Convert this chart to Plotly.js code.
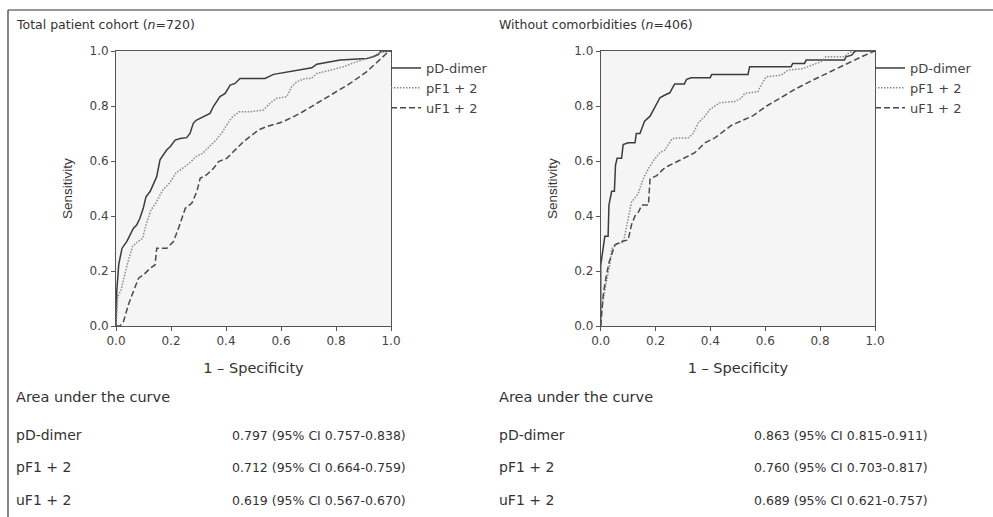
<!DOCTYPE html>
<html>
<head>
<meta charset="utf-8">
<script src="https://cdn.plot.ly/plotly-3.0.1.min.js"></script>
<style>html,body{margin:0;padding:0;background:#fff;}#chart{width:993px;height:517px;}</style>
</head>
<body>
<div id="chart"></div>
<script>
// ---------- DATA ----------
const seriesNames = ['pD-dimer', 'pF1 + 2', 'uF1 + 2'];

// Total patient cohort (n=720)
const totalPD_x = [0, 0.003, 0.01, 0.022, 0.039, 0.051, 0.063, 0.075, 0.087, 0.099, 0.109, 0.124, 0.136, 0.148, 0.16, 0.172, 0.184, 0.197, 0.215, 0.233, 0.257, 0.269, 0.281, 0.293, 0.318, 0.342, 0.354, 0.378, 0.397, 0.415, 0.433, 0.451, 0.487, 0.542, 0.573, 0.657, 0.712, 0.73, 0.815, 0.912, 0.936, 0.955, 0.961, 1];
const totalPD_y = [0, 0.13, 0.224, 0.283, 0.307, 0.331, 0.355, 0.367, 0.392, 0.428, 0.47, 0.489, 0.513, 0.543, 0.604, 0.622, 0.64, 0.652, 0.676, 0.682, 0.685, 0.70, 0.737, 0.749, 0.761, 0.773, 0.798, 0.834, 0.846, 0.876, 0.882, 0.9, 0.9, 0.9, 0.915, 0.93, 0.939, 0.952, 0.967, 0.973, 0.979, 0.988, 0.997, 1];
const totalPF_x = [0, 0.003, 0.006, 0.018, 0.03, 0.042, 0.06, 0.079, 0.097, 0.109, 0.127, 0.145, 0.17, 0.194, 0.218, 0.242, 0.267, 0.291, 0.315, 0.339, 0.364, 0.388, 0.406, 0.424, 0.448, 0.487, 0.536, 0.56, 0.584, 0.621, 0.639, 0.657, 0.687, 0.71, 0.73, 0.778, 0.827, 0.875, 0.924, 0.955, 0.97, 1];
const totalPF_y = [0, 0.05, 0.106, 0.13, 0.179, 0.228, 0.289, 0.307, 0.319, 0.368, 0.422, 0.447, 0.495, 0.519, 0.556, 0.574, 0.592, 0.616, 0.628, 0.652, 0.676, 0.707, 0.737, 0.761, 0.779, 0.779, 0.785, 0.81, 0.828, 0.834, 0.87, 0.888, 0.9, 0.9, 0.918, 0.93, 0.943, 0.961, 0.976, 0.991, 1.0, 1];
const totalUF_x = [0, 0.015, 0.027, 0.045, 0.063, 0.082, 0.1, 0.124, 0.142, 0.148, 0.185, 0.209, 0.227, 0.252, 0.276, 0.294, 0.306, 0.33, 0.355, 0.373, 0.403, 0.427, 0.464, 0.488, 0.518, 0.548, 0.608, 0.669, 0.73, 0.79, 0.851, 0.912, 0.972, 0.99, 1];
const totalUF_y = [0, 0.0, 0.016, 0.077, 0.125, 0.174, 0.186, 0.21, 0.222, 0.283, 0.283, 0.307, 0.355, 0.428, 0.447, 0.489, 0.537, 0.55, 0.574, 0.598, 0.61, 0.634, 0.671, 0.689, 0.713, 0.725, 0.743, 0.773, 0.81, 0.846, 0.882, 0.925, 0.979, 0.997, 1];

// Without comorbidities (n=406)
const noComPD_x = [0, 0, 0.015, 0.027, 0.03, 0.04, 0.05, 0.054, 0.06, 0.076, 0.082, 0.1, 0.125, 0.13, 0.143, 0.16, 0.18, 0.2, 0.216, 0.234, 0.252, 0.265, 0.27, 0.305, 0.313, 0.33, 0.399, 0.405, 0.537, 0.543, 0.694, 0.70, 0.743, 0.749, 0.889, 0.894, 0.915, 0.925, 0.93, 1];
const noComPD_y = [0, 0.22, 0.326, 0.326, 0.44, 0.49, 0.49, 0.585, 0.61, 0.61, 0.66, 0.666, 0.666, 0.70, 0.70, 0.745, 0.763, 0.80, 0.83, 0.84, 0.848, 0.872, 0.88, 0.88, 0.897, 0.903, 0.903, 0.915, 0.915, 0.943, 0.943, 0.955, 0.955, 0.967, 0.967, 0.979, 0.985, 0.997, 1.0, 1];
const noComPF_x = [0, 0.004, 0.01, 0.016, 0.022, 0.034, 0.04, 0.058, 0.083, 0.1, 0.112, 0.136, 0.155, 0.167, 0.191, 0.216, 0.234, 0.258, 0.27, 0.319, 0.337, 0.355, 0.38, 0.398, 0.434, 0.488, 0.512, 0.525, 0.573, 0.585, 0.603, 0.658, 0.682, 0.737, 0.803, 0.821, 0.888, 0.906, 0.918, 1];
const noComPF_y = [0, 0.07, 0.1, 0.137, 0.167, 0.228, 0.28, 0.298, 0.305, 0.39, 0.45, 0.48, 0.535, 0.56, 0.60, 0.63, 0.64, 0.678, 0.684, 0.684, 0.70, 0.738, 0.763, 0.787, 0.812, 0.816, 0.828, 0.846, 0.852, 0.876, 0.906, 0.912, 0.93, 0.936, 0.961, 0.979, 0.979, 0.994, 1.0, 1];
const noComUF_x = [0, 0.004, 0.01, 0.02, 0.03, 0.04, 0.052, 0.076, 0.1, 0.112, 0.125, 0.138, 0.15, 0.174, 0.18, 0.204, 0.234, 0.283, 0.343, 0.38, 0.416, 0.477, 0.513, 0.556, 0.605, 0.654, 0.714, 0.775, 0.836, 0.897, 0.957, 1];
const noComUF_y = [0, 0.05, 0.12, 0.18, 0.23, 0.26, 0.295, 0.307, 0.313, 0.367, 0.40, 0.415, 0.44, 0.44, 0.535, 0.547, 0.576, 0.60, 0.63, 0.666, 0.684, 0.73, 0.745, 0.765, 0.80, 0.83, 0.864, 0.895, 0.925, 0.952, 0.982, 1];

// Area under the curve table
const aucTotal = [0.797, 0.712, 0.619];
const ciLoTotal = [0.757, 0.664, 0.567];
const ciHiTotal = [0.838, 0.759, 0.670];
const aucNoCom = [0.863, 0.760, 0.689];
const ciLoNoCom = [0.815, 0.703, 0.621];
const ciHiNoCom = [0.911, 0.817, 0.757];

const tickVals = [0, 0.2, 0.4, 0.6, 0.8, 1.0];
const tickText = ['0.0', '0.2', '0.4', '0.6', '0.8', '1.0'];

// ---------- LAYOUT HELPERS ----------
const W = 993, H = 517;
const px = v => v / W;
const py = v => 1 - v / H;
const FONT = '"DejaVu Sans", Verdana, sans-serif';
const FONT_A = '"Liberation Sans", Arial, Helvetica, sans-serif';

const styles = [
  {color: '#3c3c3c', width: 1.5, dash: 'solid'},
  {color: '#8a8a8a', width: 1.5, dash: '1.5px,1.5px'},
  {color: '#4a4a4a', width: 1.5, dash: '6px,3px'}
];

function mk(x, y, i, xa, ya, leg) {
  return {
    x: x, y: y, type: 'scatter', mode: 'lines', name: seriesNames[i],
    xaxis: xa, yaxis: ya, legend: leg,
    line: Object.assign({}, styles[i]), cliponaxis: false,
    hoverinfo: 'x+y'
  };
}

const traces = [
  mk(totalPD_x, totalPD_y, 0, 'x', 'y', 'legend'),
  mk(totalPF_x, totalPF_y, 1, 'x', 'y', 'legend'),
  mk(totalUF_x, totalUF_y, 2, 'x', 'y', 'legend'),
  mk(noComPD_x, noComPD_y, 0, 'x2', 'y2', 'legend2'),
  mk(noComPF_x, noComPF_y, 1, 'x2', 'y2', 'legend2'),
  mk(noComUF_x, noComUF_y, 2, 'x2', 'y2', 'legend2')
];

function xAxis(d0, d1, anchor) {
  return {
    domain: [px(d0), px(d1)], anchor: anchor, range: [0, 1],
    tickvals: tickVals, ticktext: tickText, ticks: 'outside', ticklen: 4, tickcolor: '#555',
    showline: true, linecolor: '#555', linewidth: 1, mirror: true,
    showgrid: false, zeroline: false, fixedrange: true,
    tickfont: {size: 12, color: '#444', family: FONT},
    title: {text: '1 \u2013 Specificity', font: {size: 14.5, color: '#333', family: FONT}, standoff: 15}
  };
}
function yAxis(anchor) {
  return {
    domain: [py(326), py(51)], anchor: anchor, range: [0, 1],
    tickvals: tickVals, ticktext: tickText, ticks: 'outside', ticklen: 4, tickcolor: '#555',
    showline: true, linecolor: '#555', linewidth: 1, mirror: true,
    showgrid: false, zeroline: false, fixedrange: true,
    tickfont: {size: 12, color: '#444', family: FONT},
    title: {text: 'Sensitivity', font: {size: 13.5, color: '#333', family: FONT_A}, standoff: 13}
  };
}

const annotations = [];
function txt(t, xp, yp, size, anchor) {
  annotations.push({
    text: t, xref: 'paper', yref: 'paper', x: px(xp), y: py(yp),
    xanchor: anchor || 'left', yanchor: 'middle', showarrow: false,
    font: {size: size, color: '#333', family: FONT}
  });
}
txt('Total patient cohort (<i>n</i>=720)', 14, 24, 12.5);
txt('Without comorbidities (<i>n</i>=406)', 497, 24, 12.5);
txt('Area under the curve', 14, 397, 14.5);
txt('Area under the curve', 497, 397, 14.5);
const rowY = [435, 467, 500];
seriesNames.forEach((n, i) => {
  txt(n, 14, rowY[i], 14);
  txt(aucTotal[i].toFixed(3) + ' (95% CI ' + ciLoTotal[i].toFixed(3) + '-' + ciHiTotal[i].toFixed(3) + ')', 230, rowY[i], 12.5);
  txt(n, 497, rowY[i], 14);
  txt(aucNoCom[i].toFixed(3) + ' (95% CI ' + ciLoNoCom[i].toFixed(3) + '-' + ciHiNoCom[i].toFixed(3) + ')', 752, rowY[i], 12.5);
});

const legendBase = {
  bgcolor: 'rgba(0,0,0,0)', borderwidth: 0, xanchor: 'left', yanchor: 'top',
  font: {size: 13, color: '#444', family: FONT}, tracegroupgap: 0, itemwidth: 30
};

const layout = {
  width: W, height: H,
  margin: {l: 0, r: 0, t: 0, b: 0},
  paper_bgcolor: '#ffffff', plot_bgcolor: '#f5f5f5',
  font: {family: FONT, color: '#333'},
  showlegend: true,
  xaxis: xAxis(116, 391, 'y'),
  yaxis: yAxis('x'),
  xaxis2: xAxis(600.7, 875, 'y2'),
  yaxis2: yAxis('x2'),
  legend: Object.assign({}, legendBase, {x: px(386), y: py(53)}),
  legend2: Object.assign({}, legendBase, {x: px(870), y: py(53)}),
  annotations: annotations,
  shapes: [
    {type: 'line', xref: 'paper', yref: 'paper', x0: px(8), x1: 1, y0: py(10), y1: py(10), line: {color: '#333', width: 1.2}},
    {type: 'line', xref: 'paper', yref: 'paper', x0: px(8), x1: px(8), y0: py(10), y1: 0, line: {color: '#333', width: 1.2}}
  ]
};

Plotly.newPlot('chart', traces, layout, {displayModeBar: false});
</script>
</body>
</html>
